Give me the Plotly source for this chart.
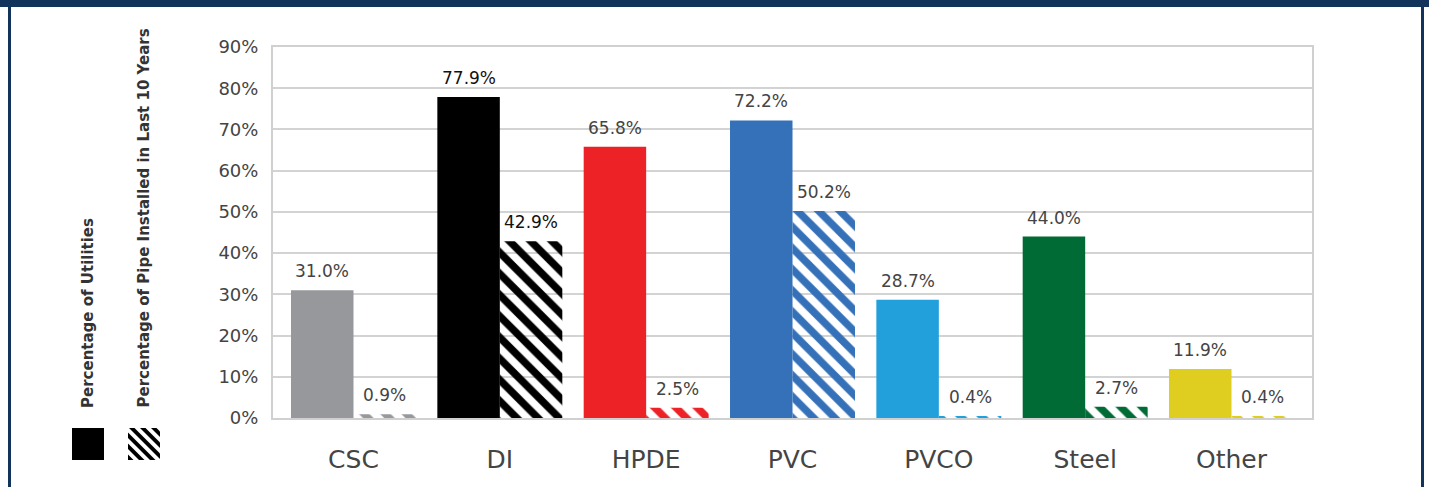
import plotly.graph_objects as go

# Pipe material categories and survey results (%)
categories = ["CSC", "DI", "HPDE", "PVC", "PVCO", "Steel", "Other"]
pct_utilities = [31.0, 77.9, 65.8, 72.2, 28.7, 44.0, 11.9]
pct_installed_10yr = [0.9, 42.9, 2.5, 50.2, 0.4, 2.7, 0.4]
material_colors = ["#97989b", "#000000", "#ec2227", "#3571b8", "#21a0db", "#006b35", "#dfcd1f"]
label_colors = ["#444444", "#111111", "#444444", "#444444", "#444444", "#444444", "#444444"]
y_ticks = [0, 10, 20, 30, 40, 50, 60, 70, 80, 90]
y_tick_text = [f"{v}%" for v in y_ticks]

FONT = "DejaVu Sans"
W, H = 1429, 487
ML, MR, MT, MB = 273, 117, 47, 69
PW, PH = W - ML - MR, H - MT - MB
NAVY = "#13345a"
X_RANGE = [-0.55, 6.55]
BAR_PX = PW / (X_RANGE[1] - X_RANGE[0]) * (1 - 0.146) / 2


def px_x(x):
    return (x - ML) / PW


def px_y(y):
    return (H - MB - y) / PH


fig = go.Figure()
fig.add_trace(go.Bar(
    x=categories, y=pct_utilities, name="Percentage of Utilities",
    marker=dict(color=material_colors, line=dict(width=0)),
))
fig.add_trace(go.Bar(
    x=categories, y=pct_installed_10yr, name="Percentage of Pipe Installed in Last 10 Years",
    marker=dict(color=material_colors, line=dict(width=0),
                pattern=dict(shape="\\", fgcolor=material_colors, bgcolor="white",
                             size=15, solidity=0.5, fillmode="replace")),
))

annotations = []
# Value labels above each bar
for i, cat in enumerate(categories):
    for val, shift in [(pct_utilities[i], -BAR_PX / 2), (pct_installed_10yr[i], BAR_PX / 2)]:
        annotations.append(dict(
            x=cat, y=val, xref="x", yref="y", xshift=shift, yshift=7,
            text=f"{val:.1f}%", showarrow=False, xanchor="center", yanchor="bottom",
            font=dict(family=FONT, size=17, color=label_colors[i]),
        ))

shapes = []
# Frame: navy band on top and thin navy rules on the sides
shapes.append(dict(type="rect", xref="paper", yref="paper", x0=px_x(0), x1=px_x(W),
                   y0=px_y(7), y1=px_y(0), fillcolor=NAVY, line=dict(width=0), layer="above"))
for xa, xb in [(8, 11), (1421, 1424)]:
    shapes.append(dict(type="rect", xref="paper", yref="paper", x0=px_x(xa), x1=px_x(xb),
                       y0=px_y(H), y1=px_y(0), fillcolor=NAVY, line=dict(width=0), layer="above"))

# Key swatches: solid square and striped square
shapes.append(dict(type="rect", xref="paper", yref="paper", x0=px_x(72), x1=px_x(104),
                   y0=px_y(460), y1=px_y(428), fillcolor="black", line=dict(width=0)))


def clip_band(x0, y0, size, c_lo, c_hi):
    """Clip the diagonal band c_lo <= (x - x0) - (y - y0) <= c_hi to a square (pixel coords)."""
    poly = [(x0, y0), (x0 + size, y0), (x0 + size, y0 + size), (x0, y0 + size)]

    def clip(points, f):
        out = []
        n = len(points)
        for i in range(n):
            p, q = points[i], points[(i + 1) % n]
            fp, fq = f(p), f(q)
            if fp >= 0:
                out.append(p)
            if (fp >= 0) != (fq >= 0):
                t = fp / (fp - fq)
                out.append((p[0] + t * (q[0] - p[0]), p[1] + t * (q[1] - p[1])))
        return out

    poly = clip(poly, lambda p: (p[0] - x0) - (p[1] - y0) - c_lo)
    if poly:
        poly = clip(poly, lambda p: c_hi - ((p[0] - x0) - (p[1] - y0)))
    return poly


sx, sy, ss = 128, 428, 32
period = 11
c = -ss
while c < ss:
    poly = clip_band(sx, sy, ss, c, c + period / 2)
    if len(poly) >= 3:
        path = "M " + " L ".join(f"{px_x(p[0]):.5f},{px_y(p[1]):.5f}" for p in poly) + " Z"
        shapes.append(dict(type="path", xref="paper", yref="paper", path=path,
                           fillcolor="black", line=dict(width=0)))
    c += period

annotations += [
    dict(text="<b>Percentage of Utilities</b>", textangle=-90, xref="paper", yref="paper",
         x=px_x(88), y=px_y(410), xanchor="center", yanchor="bottom", showarrow=False,
         font=dict(family=FONT, size=15, color="#333333")),
    dict(text="<b>Percentage of Pipe Installed in Last 10 Years</b>", textangle=-90,
         xref="paper", yref="paper", x=px_x(143), y=px_y(410), xanchor="center",
         yanchor="bottom", showarrow=False, font=dict(family=FONT, size=15, color="#333333")),
]

fig.update_layout(
    width=W, height=H,
    margin=dict(l=ML, r=MR, t=MT, b=MB, pad=0),
    paper_bgcolor="white", plot_bgcolor="white",
    barmode="group", bargap=0.146, bargroupgap=0,
    showlegend=False,
    shapes=shapes, annotations=annotations,
    font=dict(family=FONT, color="#444444"),
)
fig.update_xaxes(
    range=X_RANGE,
    showline=True, mirror=True, linecolor="#d0d0d0", linewidth=2,
    showgrid=False, ticks="", tickfont=dict(family=FONT, size=25, color="#444444"),
    ticklabelstandoff=18,
)
fig.update_yaxes(
    range=[0, 90], tickvals=y_ticks, ticktext=y_tick_text,
    showline=True, mirror=True, linecolor="#d0d0d0", linewidth=2,
    showgrid=True, gridcolor="#d3d3d3", gridwidth=2, zeroline=False,
    ticks="", tickfont=dict(family=FONT, size=18, color="#444444"),
    ticklabelstandoff=9,
)

fig.write_html("out.html")
